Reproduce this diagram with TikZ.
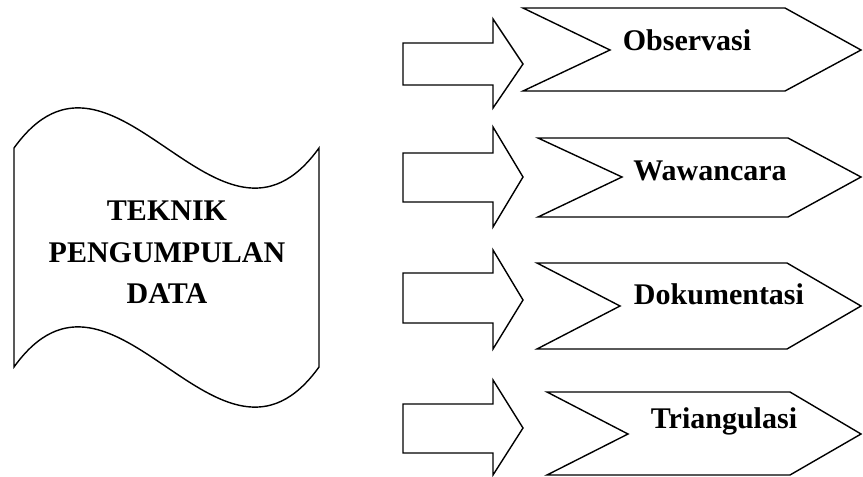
\documentclass[tikz,border=0pt]{standalone}
\usepackage{fontspec}
\setmainfont{Liberation Serif}
\begin{document}
\begin{tikzpicture}[x=1pt,y=-1pt,
  shp/.style={draw=black,line width=1.4pt,line join=miter,fill=white},
  lbl/.style={font=\fontsize{30}{36}\selectfont\bfseries,anchor=base,inner sep=0pt}]
\useasboundingbox (0,0) rectangle (863,477);
% wave (tape) shape
\draw[shp] (14,148) .. controls (114,9) and (219,287) .. (319,148) -- (319,367)
  .. controls (219,506) and (114,228) .. (14,367) -- cycle;
\node[lbl] (t1) at (167,220) {TEKNIK};
\node[lbl] (t2) at (167,262) {PENGUMPULAN};
\node[lbl] (t3) at (167,303) {DATA};
% block arrows
\draw[shp] (403,43) -- (493,43) -- (493,19) -- (523,64) -- (493,108) -- (493,85) -- (403,85) -- cycle;
\draw[shp] (403,153) -- (493,153) -- (493,127) -- (523,177) -- (493,227) -- (493,202) -- (403,202) -- cycle;
\draw[shp] (403,273) -- (493,273) -- (493,250) -- (523,300) -- (493,349) -- (493,323) -- (403,323) -- cycle;
\draw[shp] (403,404) -- (493,404) -- (493,380) -- (523,428) -- (493,475) -- (493,453) -- (403,453) -- cycle;
% chevrons
\draw[shp] (523,8) -- (785,8) -- (861,50) -- (785,91) -- (523,91) -- (610,50) -- cycle;
\draw[shp] (538,138) -- (788,138) -- (861,177) -- (788,217) -- (538,217) -- (622,177) -- cycle;
\draw[shp] (537,263) -- (787,263) -- (861,306) -- (787,349) -- (537,349) -- (620,306) -- cycle;
\draw[shp] (547,392) -- (790,392) -- (861,434) -- (790,475) -- (547,475) -- (628,434) -- cycle;
\node[lbl] (c1) at (687,50) {Observasi};
\node[lbl] (c2) at (710,180) {Wawancara};
\node[lbl] (c3) at (719,304) {Dokumentasi};
\node[lbl] (c4) at (724,428) {Triangulasi};
\end{tikzpicture}
\end{document}
